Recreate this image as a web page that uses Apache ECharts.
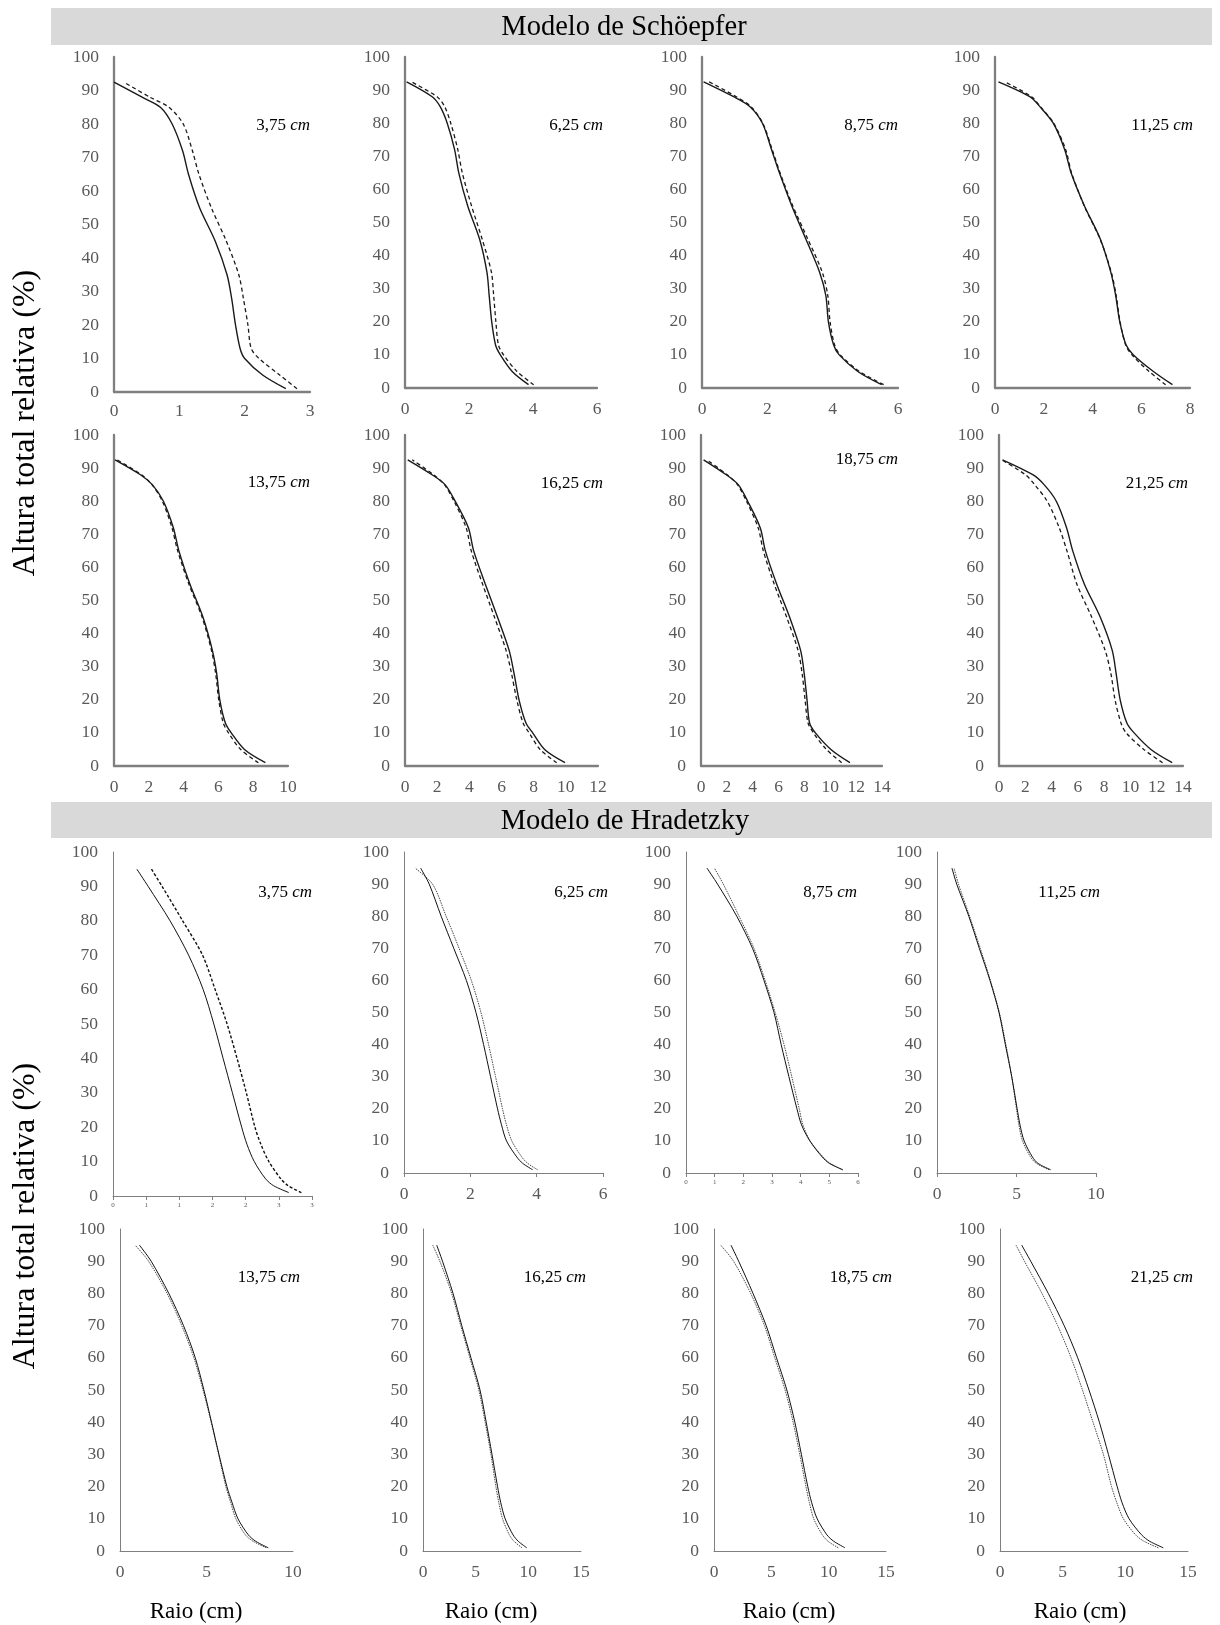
<!DOCTYPE html>
<html>
<head>
<meta charset="utf-8">
<script src="https://cdn.jsdelivr.net/npm/echarts@6/dist/echarts.min.js"></script>
<style>
  html, body { margin: 0; padding: 0; background: #ffffff; }
  #chart { width: 1220px; height: 1625px; }
</style>
</head>
<body>
<div id="chart"></div>
<script>
// ---------------- DATA ----------------
const diameterLabels = ['3,75', '6,25', '8,75', '11,25', '13,75', '16,25', '18,75', '21,25'];
const yTicks = { min: 0, max: 100, interval: 10 };

// Schöepfer model: relative heights (%) and radius (cm) per diameter class
const schoHeights = [1, 5, 10, 13, 20, 28, 35, 45, 55, 65, 72, 80, 85, 88, 92.5];
const schoSolid375  = [2.63, 2.28, 2.00, 1.93, 1.86, 1.80, 1.73, 1.55, 1.31, 1.14, 1.05, 0.89, 0.71, 0.43, 0];
const schoDash375   = [2.80, 2.54, 2.22, 2.10, 2.05, 1.98, 1.91, 1.72, 1.49, 1.30, 1.20, 1.06, 0.84, 0.55, 0.15];
const schoSolid625  = [3.86, 3.35, 2.98, 2.83, 2.71, 2.63, 2.56, 2.33, 1.96, 1.68, 1.55, 1.32, 1.10, 0.85, 0.05];
const schoDash625   = [4.02, 3.50, 3.08, 2.92, 2.84, 2.77, 2.70, 2.41, 2.08, 1.79, 1.65, 1.43, 1.24, 1.00, 0.20];
const schoSolid875  = [5.50, 4.77, 4.20, 4.03, 3.87, 3.79, 3.60, 3.18, 2.75, 2.37, 2.13, 1.85, 1.47, 0.97, 0.05];
const schoDash875   = [5.56, 4.82, 4.23, 4.06, 3.92, 3.85, 3.68, 3.24, 2.78, 2.39, 2.15, 1.86, 1.50, 1.05, 0.22];
const schoSolid1125 = [7.28, 6.50, 5.68, 5.38, 5.12, 4.95, 4.75, 4.32, 3.67, 3.12, 2.86, 2.39, 1.84, 1.43, 0.14];
const schoDash1125  = [7.00, 6.32, 5.62, 5.36, 5.13, 4.97, 4.77, 4.31, 3.66, 3.14, 2.90, 2.41, 1.86, 1.50, 0.40];
const schoSolid1375 = [8.70, 7.50, 6.74, 6.40, 6.08, 5.90, 5.65, 5.11, 4.36, 3.73, 3.41, 2.84, 2.20, 1.52, 0.06];
const schoDash1375  = [8.30, 7.28, 6.58, 6.28, 6.02, 5.84, 5.60, 5.06, 4.30, 3.66, 3.33, 2.78, 2.18, 1.58, 0.18];
const schoSolid1625 = [9.95, 8.68, 7.94, 7.52, 7.09, 6.78, 6.47, 5.75, 4.99, 4.27, 3.94, 3.12, 2.49, 1.68, 0.17];
const schoDash1625  = [9.43, 8.40, 7.72, 7.34, 6.95, 6.62, 6.28, 5.56, 4.82, 4.12, 3.80, 3.05, 2.45, 1.78, 0.45];
const schoSolid1875 = [11.52, 10.05, 8.85, 8.40, 8.20, 7.98, 7.70, 6.85, 5.85, 4.98, 4.58, 3.61, 2.88, 1.95, 0.20];
const schoDash1875  = [10.88, 9.70, 8.70, 8.28, 8.05, 7.82, 7.50, 6.62, 5.66, 4.82, 4.42, 3.52, 2.82, 2.02, 0.45];
const schoSolid2125 = [13.18, 11.56, 10.28, 9.73, 9.22, 8.91, 8.61, 7.70, 6.49, 5.61, 5.14, 4.36, 3.43, 2.57, 0.26];
const schoDash2125  = [12.45, 11.02, 9.68, 9.28, 8.83, 8.51, 8.07, 7.05, 5.92, 5.17, 4.58, 3.67, 2.71, 2.01, 0.20];

// Hradetzky model
const hradHeights = [1, 3, 5, 10, 15, 20, 30, 40, 50, 60, 70, 80, 90, 95];
const hradSolid375  = [2.65, 2.42, 2.30, 2.13, 2.02, 1.94, 1.80, 1.66, 1.52, 1.36, 1.14, 0.86, 0.53, 0.36];
const hradDot375    = [2.84, 2.64, 2.53, 2.35, 2.23, 2.14, 2.01, 1.87, 1.72, 1.54, 1.35, 1.05, 0.74, 0.58];
const hradSolid625  = [3.88, 3.58, 3.40, 3.09, 2.94, 2.82, 2.61, 2.40, 2.17, 1.88, 1.50, 1.12, 0.76, 0.50];
const hradDot625    = [4.03, 3.73, 3.55, 3.25, 3.09, 2.97, 2.76, 2.55, 2.32, 2.03, 1.66, 1.27, 0.86, 0.33];
const hradSolid875  = [5.47, 5.00, 4.75, 4.32, 4.03, 3.87, 3.59, 3.32, 3.07, 2.72, 2.32, 1.77, 1.10, 0.73];
const hradDot875    = [5.47, 5.03, 4.78, 4.33, 4.08, 3.95, 3.69, 3.42, 3.11, 2.76, 2.37, 1.85, 1.30, 0.99];
const hradSolid1125 = [7.15, 6.35, 6.00, 5.48, 5.22, 5.04, 4.70, 4.30, 3.90, 3.33, 2.66, 2.00, 1.24, 0.94];
const hradDot1125   = [7.05, 6.25, 5.88, 5.38, 5.15, 5.00, 4.70, 4.33, 3.92, 3.36, 2.72, 2.05, 1.35, 1.07];
const hradSolid1375 = [8.57, 7.85, 7.42, 6.82, 6.48, 6.18, 5.72, 5.29, 4.85, 4.35, 3.67, 2.82, 1.80, 1.12];
const hradDot1375   = [8.45, 7.70, 7.25, 6.70, 6.40, 6.12, 5.70, 5.27, 4.80, 4.27, 3.57, 2.72, 1.65, 0.87];
const hradSolid1625 = [9.85, 9.05, 8.55, 7.80, 7.38, 7.08, 6.55, 6.00, 5.41, 4.55, 3.68, 2.85, 1.85, 1.30];
const hradDot1625   = [9.40, 8.65, 8.20, 7.55, 7.20, 6.92, 6.45, 5.90, 5.30, 4.45, 3.58, 2.72, 1.60, 0.92];
const hradSolid1875 = [11.42, 10.45, 9.85, 9.00, 8.52, 8.18, 7.62, 7.05, 6.35, 5.45, 4.55, 3.40, 2.15, 1.48];
const hradDot1875   = [10.84, 9.95, 9.45, 8.70, 8.32, 8.02, 7.48, 6.90, 6.20, 5.30, 4.40, 3.20, 1.70, 0.58];
const hradSolid2125 = [13.03, 11.95, 11.30, 10.30, 9.74, 9.35, 8.65, 7.93, 7.10, 6.20, 5.12, 3.85, 2.45, 1.73];
const hradDot2125   = [12.63, 11.50, 10.82, 9.85, 9.32, 8.90, 8.25, 7.42, 6.58, 5.67, 4.60, 3.35, 1.95, 1.28];

// x-axis tick settings (max, interval) per panel
const schoXMax = [3, 6, 6, 8, 10, 12, 14, 14];
const schoXInterval = [1, 2, 2, 2, 2, 2, 2, 2];
const hradXMax = [3, 6, 6, 10, 10, 15, 15, 15];
const hradXInterval = [0.5, 2, 1, 5, 5, 5, 5, 5];

const schoSolid = [schoSolid375, schoSolid625, schoSolid875, schoSolid1125, schoSolid1375, schoSolid1625, schoSolid1875, schoSolid2125];
const schoDash  = [schoDash375, schoDash625, schoDash875, schoDash1125, schoDash1375, schoDash1625, schoDash1875, schoDash2125];
const hradSolid = [hradSolid375, hradSolid625, hradSolid875, hradSolid1125, hradSolid1375, hradSolid1625, hradSolid1875, hradSolid2125];
const hradDot   = [hradDot375, hradDot625, hradDot875, hradDot1125, hradDot1375, hradDot1625, hradDot1875, hradDot2125];

// ---------------- LAYOUT ----------------
const FONT = '"Liberation Serif","Times New Roman",serif';
const schoGrids = [
  [114, 57, 196, 335], [405, 57, 192, 331], [702, 57, 196, 331], [995, 57, 195, 331],
  [114, 435, 174, 331], [405, 435, 193, 331], [701, 435, 181, 331], [999, 435, 184, 331]
];
const hradGrids = [
  [113, 852, 199, 344], [404, 852, 199, 321], [686, 852, 172, 321], [937, 852, 159, 321],
  [120, 1229, 173, 322], [423, 1229, 158, 322], [714, 1229, 172, 322], [1000, 1229, 188, 322]
];
const schoLabelPos = [[310, 126], [603, 126], [898, 126], [1193, 126], [310, 483], [603, 484], [898, 460], [1188, 484]];
const hradLabelPos = [[312, 893], [608, 893], [857, 893], [1100, 893], [300, 1278], [586, 1278], [892, 1278], [1193, 1278]];

const grids = [], xAxes = [], yAxes = [], series = [], elements = [];
const labelColor = '#595959';
const axisColor = '#7f7f7f';

function pairs(xs, ys) { return xs.map((x, i) => [x, ys[i]]); }

function addPanel(rect, xmax, interval, isSch, idx) {
  const gi = grids.length;
  grids.push({ left: rect[0], top: rect[1], width: rect[2], height: rect[3], containLabel: false });
  const tiny = !isSch && (idx === 0 || idx === 2);
  xAxes.push({
    type: 'value', gridIndex: gi, min: 0, max: xmax, interval: interval,
    axisLine: { show: true, onZero: false, lineStyle: { color: axisColor, width: isSch ? 2.3 : 1 } },
    axisTick: { show: !isSch && (idx <= 3), length: 4, lineStyle: { color: axisColor, width: 1 } },
    splitLine: { show: false },
    axisLabel: {
      fontFamily: FONT, color: labelColor,
      fontSize: tiny ? 7 : 17.5,
      margin: tiny ? 6 : (isSch && idx === 0 ? 10 : 12),
      formatter: (v) => (tiny ? String(Math.round(v)) : String(v))
    }
  });
  yAxes.push({
    type: 'value', gridIndex: gi, min: yTicks.min, max: yTicks.max, interval: yTicks.interval,
    axisLine: { show: true, onZero: false, lineStyle: { color: axisColor, width: isSch ? 2.3 : 1 } },
    axisTick: { show: false },
    splitLine: { show: false },
    axisLabel: { fontFamily: FONT, color: labelColor, fontSize: 17.5, margin: 15 }
  });
}

for (let i = 0; i < 8; i++) {
  addPanel(schoGrids[i], schoXMax[i], schoXInterval[i], true, i);
  const gi = grids.length - 1;
  series.push({
    type: 'line', xAxisIndex: gi, yAxisIndex: gi, data: pairs(schoDash[i], schoHeights),
    showSymbol: false, smooth: 0.3, silent: true,
    lineStyle: { color: '#1a1a1a', width: 1.3, type: [4, 3] }
  });
  series.push({
    type: 'line', xAxisIndex: gi, yAxisIndex: gi, data: pairs(schoSolid[i], schoHeights),
    showSymbol: false, smooth: 0.3, silent: true,
    lineStyle: { color: '#1a1a1a', width: 1.4 }
  });
}
for (let i = 0; i < 8; i++) {
  addPanel(hradGrids[i], hradXMax[i], hradXInterval[i], false, i);
  const gi = grids.length - 1;
  series.push({
    type: 'line', xAxisIndex: gi, yAxisIndex: gi, data: pairs(hradDot[i], hradHeights),
    showSymbol: false, smooth: 0.3, silent: true,
    lineStyle: i === 0 ? { color: '#111', width: 1.4, type: [3, 2] } : { color: '#333', width: 0.9, type: [1.5, 1] }
  });
  series.push({
    type: 'line', xAxisIndex: gi, yAxisIndex: gi, data: pairs(hradSolid[i], hradHeights),
    showSymbol: false, smooth: 0.3, silent: true,
    lineStyle: { color: '#111', width: 1 }
  });
}

// banners
elements.push({ type: 'rect', shape: { x: 51, y: 8, width: 1161, height: 37 }, style: { fill: '#d9d9d9' }, z: -1 });
elements.push({ type: 'rect', shape: { x: 51, y: 802, width: 1161, height: 36 }, style: { fill: '#d9d9d9' }, z: -1 });
elements.push({ type: 'text', x: 624, y: 28, style: { text: 'Modelo de Schöepfer', font: '28.5px ' + FONT, fill: '#000', align: 'center', verticalAlign: 'middle' } });
elements.push({ type: 'text', x: 625, y: 822, style: { text: 'Modelo de Hradetzky', font: '28.5px ' + FONT, fill: '#000', align: 'center', verticalAlign: 'middle' } });

// panel labels
function panelLabel(pos, txt) {
  elements.push({
    type: 'text', x: pos[0], y: pos[1],
    style: {
      text: '{n|' + txt + ' }{u|cm}',
      align: 'right', verticalAlign: 'middle',
      rich: {
        n: { fontSize: 17, fontFamily: FONT, fill: '#000' },
        u: { fontSize: 17, fontFamily: FONT, fontStyle: 'italic', fill: '#000' }
      }
    }
  });
}
for (let i = 0; i < 8; i++) { panelLabel(schoLabelPos[i], diameterLabels[i]); panelLabel(hradLabelPos[i], diameterLabels[i]); }

// y axis titles
elements.push({ type: 'text', x: 26, y: 423, rotation: Math.PI / 2, style: { text: 'Altura total relativa (%)', font: '32px ' + FONT, fill: '#000', align: 'center', verticalAlign: 'middle' } });
elements.push({ type: 'text', x: 26, y: 1216, rotation: Math.PI / 2, style: { text: 'Altura total relativa (%)', font: '32px ' + FONT, fill: '#000', align: 'center', verticalAlign: 'middle' } });

// x axis titles
[196, 491, 789, 1080].forEach((cx) => {
  elements.push({ type: 'text', x: cx, y: 1612, style: { text: 'Raio (cm)', font: '23px ' + FONT, fill: '#000', align: 'center', verticalAlign: 'middle' } });
});

const chart = echarts.init(document.getElementById('chart'), null, { renderer: 'canvas' });
chart.setOption({
  animation: false,
  backgroundColor: '#ffffff',
  grid: grids,
  xAxis: xAxes,
  yAxis: yAxes,
  series: series,
  graphic: { elements: elements }
});
</script>
</body>
</html>
